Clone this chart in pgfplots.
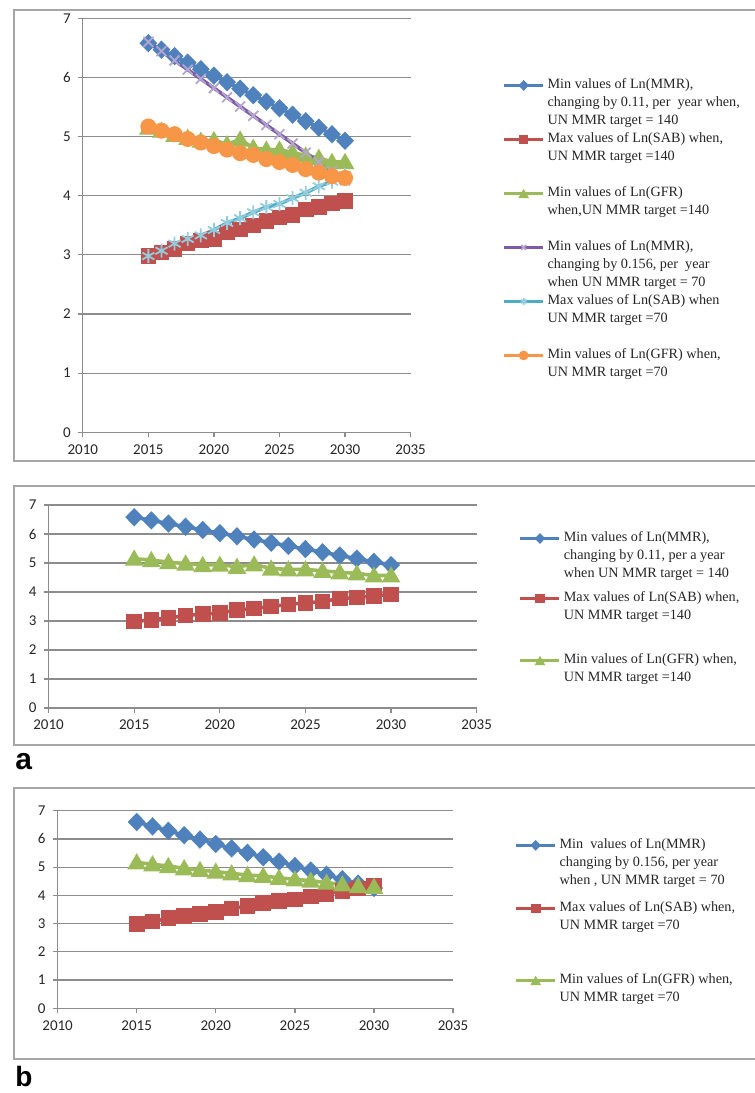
\documentclass[border=0pt]{standalone}
\usepackage{fontspec}
\setmainfont{Liberation Serif}
\newfontfamily\tickfont{Carlito}
\newfontfamily\panelfont{Liberation Sans}
\usepackage{pgfplots}
\pgfplotsset{compat=1.18}
\definecolor{xblue}{HTML}{4F81BD}
\definecolor{xred}{HTML}{C0504D}
\definecolor{xgreen}{HTML}{9BBB59}
\definecolor{xpurple}{HTML}{7D5BA6}
\definecolor{xlpurple}{HTML}{B4A4D0}
\definecolor{xcyan}{HTML}{4BACC6}
\definecolor{xlcyan}{HTML}{93CDDD}
\definecolor{xorange}{HTML}{F79646}
\definecolor{gridgray}{HTML}{8C8C8C}
\definecolor{framegray}{HTML}{A6A6A6}
\definecolor{ticktext}{HTML}{262626}

\newcommand{\lent}[2]{\raisebox{-1.7pt}[#1][#1]{\parbox[t]{125pt}{\raggedright #2}}}

\pgfplotsset{
 excel/.style={
  scale only axis,
  anchor=south west,
  xmin=2010,xmax=2035,ymin=0,ymax=7,
  xtick={2010,2015,...,2035}, ytick={0,1,...,7},
  axis x line*=bottom, axis y line*=left,
  axis line style={draw=gridgray, line width=0.6pt},
  ymajorgrids, major grid style={draw=gridgray, line width=0.6pt},
  tick align=outside, major tick length=2.5pt,
  tick style={draw=gridgray, line width=0.6pt},
  ticklabel style={font=\tickfont\fontsize{7.5pt}{9pt}\selectfont, text=ticktext},
  /pgf/number format/assume math mode=true,
  /pgf/number format/1000 sep={},
  legend cell align=left,
  legend style={draw=none, fill=none, inner sep=0pt, row sep=0pt, column sep=1.5pt,
    nodes={inner sep=0pt, text depth=}, anchor=north west,
    font=\fontsize{7.1pt}{9pt}\selectfont, text=ticktext},
  legend image code/.code={\draw[mark repeat=2,mark phase=2,##1,line width=1.4pt,mark size=1.7pt] plot coordinates {(0pt,0pt) (9.75pt,0pt) (19.5pt,0pt)};},
  clip=false,
 },
 sblue/.style={color=xblue, line width=1.8pt, mark=diamond*, mark size=3.3pt, mark options={xscale=1.3}},
 sred/.style={color=xred, line width=1.8pt, mark=square*, mark size=3pt},
 sgreen/.style={color=xgreen, line width=1.8pt, mark=triangle*, mark size=3.6pt, mark options={yshift=-0.8pt}},
 spurple/.style={color=xpurple, line width=1.8pt, mark=x, mark size=3.5pt, mark options={draw=xlpurple, line width=0.9pt}},
 scyan/.style={color=xcyan, line width=1.8pt, mark=asterisk, mark size=3.5pt, mark options={draw=xlcyan, line width=0.9pt}},
 sorange/.style={color=xorange, line width=1.8pt, mark=*, mark size=3.1pt},
}

\pgfplotstableread{
year mmrA sabA gfrA mmrB sabB gfrB
2015 6.58 2.98 5.15 6.600 2.98 5.17
2016 6.47 3.04 5.10 6.444 3.07 5.10
2017 6.36 3.10 5.03 6.288 3.19 5.04
2018 6.25 3.19 4.98 6.132 3.27 4.96
2019 6.14 3.24 4.93 5.976 3.33 4.90
2020 6.03 3.27 4.94 5.820 3.42 4.84
2021 5.92 3.38 4.87 5.664 3.54 4.78
2022 5.81 3.43 4.95 5.508 3.62 4.72
2023 5.70 3.50 4.81 5.352 3.72 4.69
2024 5.59 3.57 4.78 5.196 3.81 4.62
2025 5.48 3.63 4.78 5.040 3.86 4.57
2026 5.37 3.67 4.73 4.884 3.96 4.52
2027 5.26 3.77 4.68 4.728 4.05 4.45
2028 5.15 3.81 4.64 4.572 4.16 4.39
2029 5.04 3.87 4.57 4.416 4.24 4.33
2030 4.93 3.91 4.57 4.260 4.35 4.30
}\datatable

\begin{document}
\begin{tikzpicture}
\useasboundingbox (0,0) rectangle (377.5pt,546.5pt);
% frames
\draw[framegray, line width=0.75pt] (377.5pt,541.5pt) -- (7pt,541.5pt) -- (7pt,316pt) -- (377.5pt,316pt);
\draw[framegray, line width=0.75pt] (377.5pt,303.5pt) -- (7pt,303.5pt) -- (7pt,174pt) -- (377.5pt,174pt);
\draw[framegray, line width=0.75pt] (377.5pt,152.5pt) -- (7pt,152.5pt) -- (7pt,17pt) -- (377.5pt,17pt);

% ---------- top panel ----------
\begin{axis}[excel, at={(41.4pt,330.35pt)}, width=163.9pt, height=207pt,
  legend style={at={(1.28,0.904)}}]
\addplot[sblue] table[x=year,y=mmrA] {\datatable};
\addlegendentry{\lent{13.5pt}{Min values of Ln(MMR),\newline changing by 0.11, per~ year when,\newline UN MMR target = 140}}
\addplot[sred] table[x=year,y=sabA] {\datatable};
\addlegendentry{\lent{13.5pt}{Max values of Ln(SAB) when,\newline UN MMR target =140}}
\addplot[sgreen] table[x=year,y=gfrA] {\datatable};
\addlegendentry{\lent{13.5pt}{Min values of Ln(GFR)\newline when,UN MMR target =140}}
\addplot[spurple] table[x=year,y=mmrB] {\datatable};
\addlegendentry{\lent{13.5pt}{Min values of Ln(MMR),\newline changing by 0.156, per~ year\newline when UN MMR target = 70}}
\addplot[scyan] table[x=year,y=sabB] {\datatable};
\addlegendentry{\lent{13.5pt}{Max values of Ln(SAB) when\newline UN MMR target =70}}
\addplot[sorange] table[x=year,y=gfrB] {\datatable};
\addlegendentry{\lent{13.5pt}{Min values of Ln(GFR) when,\newline UN MMR target =70}}
\end{axis}

% ---------- panel a ----------
\begin{axis}[excel, at={(24.3pt,192.5pt)}, width=214.05pt, height=101.5pt,
  legend style={at={(1.098,0.985)}}]
\addplot[sblue] table[x=year,y=mmrA] {\datatable};
\addlegendentry{\lent{15pt}{Min values of Ln(MMR),\newline changing by 0.11, per a year\newline when UN MMR target = 140}}
\addplot[sred] table[x=year,y=sabA] {\datatable};
\addlegendentry{\lent{15pt}{Max values of Ln(SAB) when,\newline UN MMR target =140}}
\addplot[sgreen] table[x=year,y=gfrA] {\datatable};
\addlegendentry{\lent{16pt}{Min values of Ln(GFR) when,\newline UN MMR target =140}}
\end{axis}

% ---------- panel b ----------
\begin{axis}[excel, at={(28.8pt,42.35pt)}, width=197.75pt, height=98.8pt,
  legend style={at={(1.155,0.986)}}]
\addplot[sblue] table[x=year,y=mmrB] {\datatable};
\addlegendentry{\lent{15.75pt}{Min~ values of Ln(MMR)\newline changing by 0.156, per year\newline when , UN MMR target = 70}}
\addplot[sred] table[x=year,y=sabB] {\datatable};
\addlegendentry{\lent{15.75pt}{Max values of Ln(SAB) when,\newline UN MMR target =70}}
\addplot[sgreen] table[x=year,y=gfrB] {\datatable};
\addlegendentry{\lent{20.25pt}{Min values of Ln(GFR) when,\newline UN MMR target =70}}
\end{axis}

\node[anchor=base west, inner sep=0pt, font=\panelfont\bfseries\fontsize{15pt}{15pt}\selectfont] at (7.5pt,161.5pt) {a};
\node[anchor=base west, inner sep=0pt, font=\panelfont\bfseries\fontsize{14pt}{14pt}\selectfont] at (7.5pt,3.2pt) {b};
\end{tikzpicture}
\end{document}
